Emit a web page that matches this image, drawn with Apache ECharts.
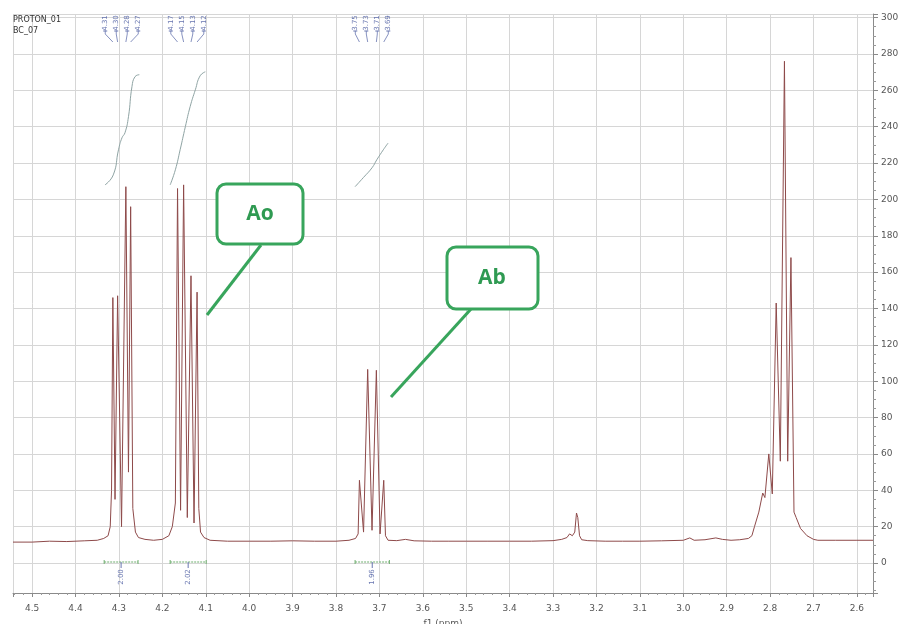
<!DOCTYPE html>
<html><head><meta charset="utf-8">
<script src="https://cdn.jsdelivr.net/npm/echarts@6/dist/echarts.min.js"></script>
<style>html,body{margin:0;padding:0;background:#fff}#c{width:901px;height:624px}</style>
</head><body><div id="c"></div>
<script>
// ---- spectrum (chemical shift in ppm, intensity) ----
const shiftPpm = [4.544,4.50,4.46,4.42,4.38,4.35,4.335,4.325,4.320,4.317,4.314,4.309,4.303,4.294,4.284,4.278,4.273,4.268,4.262,4.255,
  4.24,4.22,4.20,4.185,4.177,4.170,4.165,4.158,4.151,4.1425,4.134,4.127,4.120,4.116,4.112,4.104,4.09,
  4.05,4.00,3.95,3.90,3.85,3.80,3.77,3.755,3.749,3.746,3.7365,3.727,3.717,3.707,3.6985,3.690,3.686,3.680,
  3.66,3.64,3.62,3.58,3.54,3.50,3.45,3.40,3.35,3.30,3.28,3.268,3.262,3.260,3.2555,3.250,3.246,3.243,3.239,3.234,
  3.22,3.18,3.14,3.10,3.05,3.00,2.985,2.975,2.95,2.925,2.91,2.89,2.87,2.85,2.842,2.836,2.826,2.817,2.812,2.803,
  2.795,2.786,2.7765,2.767,2.7595,2.752,2.745,2.740,2.730,2.715,2.70,2.69,2.65,2.60,2.563];
const intensity = [11.5,11.5,12,11.8,12.2,12.5,13.5,15,20,40,146,35,147,20,207,50,196,30,17,14,
  13,12.5,13,15,20,33,206,29,208,25,158,22,149,30,17,14,12.5,
  12,12,12,12.2,12,12,12.5,13.5,16,45.5,17,106.5,18,106,16,45.5,15,12.5,
  12.3,13,12.2,12,12,12,12,12,12,12.3,13,14,16,17,15,17,27.5,25,15,12.8,
  12.3,12,12,12,12.2,12.5,13.8,12.5,12.8,13.8,13,12.5,12.8,13.5,15,20,28,38.5,36,60,
  38,143,56,276,56,168,28,25,19,15,13,12.5,12.5,12.5,12.5];

// ---- integral curves ----
const integ1Ppm = [4.332,4.313,4.301,4.293,4.286,4.278,4.270,4.263,4.253];
const integ1Val = [208,213.5,227.3,233.9,236.7,245.5,262,267.5,268.6];
const integ2Ppm = [4.182,4.170,4.159,4.147,4.136,4.124,4.113,4.101];
const integ2Val = [208,216.3,227.3,240,251,260.3,268,270.2];
const integ3Ppm = [3.756,3.737,3.717,3.706,3.691,3.680];
const integ3Val = [207,212,217.4,221.8,227.3,231];

// ---- peak picking labels ----
const peakGroup1 = [4.314,4.303,4.284,4.273];
const peakGroup2 = [4.165,4.151,4.134,4.120];
const peakGroup3 = [3.746,3.727,3.707,3.690];
const peakText1 = ['4.31','4.30','4.28','4.27'];
const peakText2 = ['4.17','4.15','4.13','4.12'];
const peakText3 = ['3.75','3.73','3.71','3.69'];

// ---- integration ranges ----
const integFrom = [4.334,4.182,3.756];
const integTo = [4.256,4.099,3.677];
const integText = ['2.00','2.02','1.96'];

// ---- annotations ----
const calloutText = ['Ao','Ab'];
const titleLines = ['PROTON_01','BC_07'];
const xName = 'f1 (ppm)';

const zip = (a,b) => a.map((v,i)=>[v,b[i]]);
const chart = echarts.init(document.getElementById('c'));
const FONT = 'DejaVu Sans';
const option = {
  animation:false,
  backgroundColor:'#fff',
  grid:{left:13,right:28,top:14,bottom:31,outerBoundsMode:'none',containLabel:false},
  xAxis:{type:'value',inverse:true,min:2.563,max:4.544,splitNumber:20,minInterval:0.1,maxInterval:0.1,
    name:xName,nameLocation:'middle',nameGap:26,nameTextStyle:{fontSize:9,color:'#555',fontFamily:FONT},
    axisLine:{show:true,onZero:false,lineStyle:{color:'#8a8a8a'}},
    axisTick:{show:true,length:4,lineStyle:{color:'#8a8a8a'}},
    minorTick:{show:true,splitNumber:5,length:2,lineStyle:{color:'#9a9a9a'}},
    axisLabel:{showMinLabel:false,showMaxLabel:false,margin:11,fontSize:9,color:'#555',fontFamily:FONT,
      formatter:v=>v.toFixed(1)},
    splitLine:{show:true,lineStyle:{color:'#d6d6d6',width:1}}},
  yAxis:{type:'value',position:'right',min:-16.5,max:302,splitNumber:16,minInterval:20,maxInterval:20,
    axisLine:{show:true,lineStyle:{color:'#8a8a8a'}},
    axisTick:{show:true,length:5,lineStyle:{color:'#8a8a8a'}},
    minorTick:{show:true,splitNumber:4,length:3,lineStyle:{color:'#9a9a9a'}},
    axisLabel:{showMinLabel:false,showMaxLabel:false,margin:8,fontSize:9,color:'#555',fontFamily:FONT},
    splitLine:{show:true,lineStyle:{color:'#d6d6d6',width:1}}},
  series:[
    {type:'line',data:zip(shiftPpm,intensity),showSymbol:false,lineStyle:{color:'#8e4a4a',width:1},z:5},
    {type:'line',data:zip(integ1Ppm,integ1Val),showSymbol:false,smooth:true,lineStyle:{color:'#8fa4a4',width:1}},
    {type:'line',data:zip(integ2Ppm,integ2Val),showSymbol:false,smooth:true,lineStyle:{color:'#8fa4a4',width:1}},
    {type:'line',data:zip(integ3Ppm,integ3Val),showSymbol:false,smooth:true,lineStyle:{color:'#8fa4a4',width:1}}
  ]
};
chart.setOption(option);

const px = v => chart.convertToPixel({xAxisIndex:0}, v);
const py = v => chart.convertToPixel({yAxisIndex:0}, v);
const g = [];
const BLUE = '#6876b0';
// title
g.push({type:'text',x:13,y:16,style:{text:titleLines[0],fontSize:8,fill:'#333',fontFamily:FONT}});
g.push({type:'text',x:13,y:27,style:{text:titleLines[1],fontSize:8,fill:'#333',fontFamily:FONT}});
// peak labels
[[peakGroup1,peakText1],[peakGroup2,peakText2],[peakGroup3,peakText3]].forEach(([pk,tx])=>{
  const xs = pk.map(px);
  const c = xs.reduce((a,b)=>a+b,0)/xs.length;
  xs.forEach((xp,i)=>{
    const xl = c + (i-(xs.length-1)/2)*11;
    g.push({type:'text',x:xl,y:23,rotation:Math.PI/2,style:{text:tx[i],fontSize:7,fill:BLUE,fontFamily:FONT,align:'center',verticalAlign:'middle'}});
    g.push({type:'polyline',shape:{points:[[xl-2,31],[xl+2,31]]},style:{stroke:BLUE,lineWidth:1}});
    g.push({type:'polyline',shape:{points:[[xl,31],[xl,34],[xp,42]]},style:{stroke:BLUE,lineWidth:0.8,fill:null}});
  });
});
// integration brackets
integFrom.forEach((f,i)=>{
  const x1 = px(f), x2 = px(integTo[i]), y = py(0)-1, xc=(x1+x2)/2;
  g.push({type:'line',shape:{x1:x1,y1:y,x2:x2,y2:y},style:{stroke:'#6fae6f',lineWidth:1.2,lineDash:[2,1]}});
  g.push({type:'line',shape:{x1:x1,y1:y-2,x2:x1,y2:y+2},style:{stroke:'#6fae6f',lineWidth:1}});
  g.push({type:'line',shape:{x1:x2,y1:y-2,x2:x2,y2:y+2},style:{stroke:'#6fae6f',lineWidth:1}});
  g.push({type:'line',shape:{x1:xc,y1:y,x2:xc,y2:y+6},style:{stroke:BLUE,lineWidth:1}});
  g.push({type:'text',x:xc,y:y+15,rotation:Math.PI/2,style:{text:integText[i],fontSize:7,fill:BLUE,fontFamily:FONT,align:'center',verticalAlign:'middle'}});
});
// callouts
const GREEN = '#38a55c';
g.push({type:'line',shape:{x1:261,y1:245,x2:207,y2:315},style:{stroke:GREEN,lineWidth:3},z:20});
g.push({type:'rect',shape:{x:217,y:184,width:86,height:60,r:9},style:{stroke:GREEN,lineWidth:3,fill:'#fff'},z:21});
g.push({type:'text',x:260,y:214,style:{text:calloutText[0],fontSize:21,fontWeight:'bold',fill:'#2f9a52',fontFamily:'Open Sans',align:'center',verticalAlign:'middle'},z:22});
g.push({type:'line',shape:{x1:471,y1:309,x2:391,y2:397},style:{stroke:GREEN,lineWidth:3},z:20});
g.push({type:'rect',shape:{x:447,y:247,width:91,height:62,r:9},style:{stroke:GREEN,lineWidth:3,fill:'#fff'},z:21});
g.push({type:'text',x:492,y:278,style:{text:calloutText[1],fontSize:21,fontWeight:'bold',fill:'#2f9a52',fontFamily:'Open Sans',align:'center',verticalAlign:'middle'},z:22});
chart.setOption({graphic:g});
</script>
</body></html>
